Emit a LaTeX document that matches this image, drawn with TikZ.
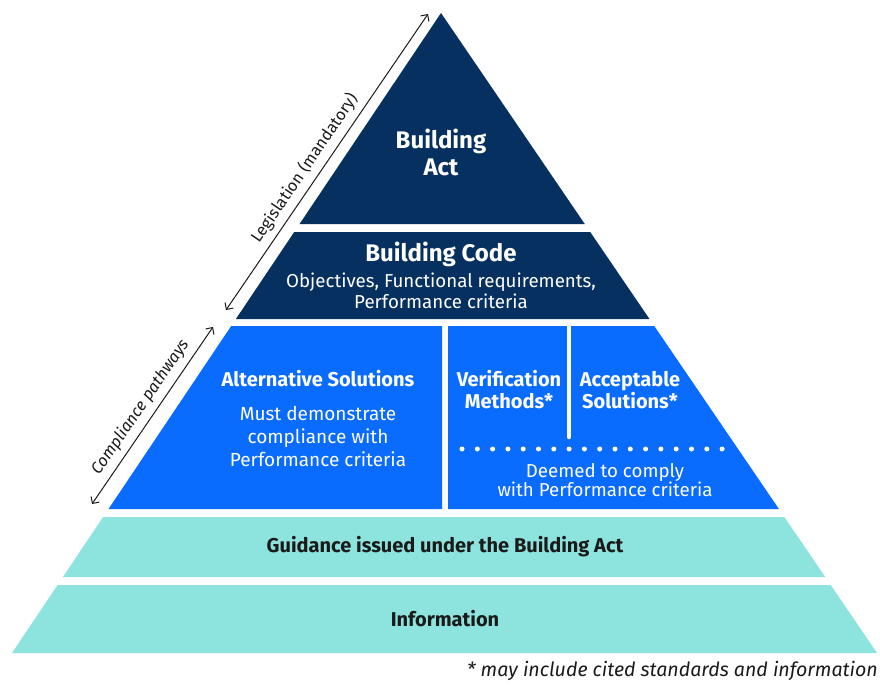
\documentclass[tikz,border=0pt]{standalone}
\usepackage{fontspec}
\setmainfont{Fira Sans}
\usetikzlibrary{arrows.meta}
\definecolor{actNavy}{HTML}{06305F}
\definecolor{pathBlue}{HTML}{0A6BFF}
\definecolor{guideTeal}{HTML}{8DE3DE}
\definecolor{inkGrey}{HTML}{1A1A1A}
\tikzset{
    headtxt/.style={text=white,font=\bfseries\fontsize{24}{27}\selectfont,align=center,inner sep=0pt},
    subtxt/.style={text=white,font=\bfseries\fontsize{20}{22}\selectfont,align=center,inner sep=0pt},
    bodytxt/.style={text=white,font=\fontsize{18.7}{21}\selectfont,align=center,inner sep=0pt},
    bandtxt/.style={text=inkGrey,font=\bfseries\fontsize{20}{22}\selectfont,inner sep=0pt},
    sidetxt/.style={text=inkGrey,font=\fontsize{16.3}{18}\selectfont,sloped,inner sep=6pt},
    sidearrow/.style={draw=inkGrey,line width=1pt,{Straight Barb[length=5pt,width=10pt]}-{Straight Barb[length=5pt,width=10pt]}},
    dotmark/.style={circle,fill=white,inner sep=0pt,minimum size=5pt}
}
% flanks of the pyramid at height #1
\newcommand{\lx}[1]{441-0.6703*(#1-13)}
\newcommand{\rx}[1]{441+0.6813*(#1-13)}
% one full-width tier between two heights
\newcommand{\pyrband}[3]{\fill[#3] ({\lx{#1}},#1) -- ({\rx{#1}},#1) -- ({\rx{#2}},#2) -- ({\lx{#2}},#2) -- cycle;}

\begin{document}
\begin{tikzpicture}[x=1pt,y=-1pt]
  \useasboundingbox (0,0) rectangle (880,698);

  % top: the Act
  \fill[actNavy] (441,13) -- ({\rx{224}},224) -- ({\lx{224}},224) -- cycle;
  % the Code
  \pyrband{232}{319}{actNavy}
  % compliance pathways, split in two
  \fill[pathBlue] ({\lx{326}},326) -- (442,326) -- (442,509) -- ({\lx{509}},509) -- cycle;
  \fill[pathBlue] (448,326) -- ({\rx{326}},326) -- ({\rx{509}},509) -- (448,509) -- cycle;
  \draw[white,line width=4.5pt,line cap=round] (569,326) -- (569,437);
  \foreach \i in {0,...,17}{
    \node[dotmark] (dot\i) at ({462+15.3*\i},449) {};
  }
  % guidance and information
  \pyrband{517}{577}{guideTeal}
  \pyrband{585}{653}{guideTeal}

  % labels
  \node[headtxt] (act) at (441,152) {Building\\Act};
  \node[headtxt] (code) at (441,254) {Building Code};
  \node[bodytxt] (codetxt) at (441,291) {Objectives, Functional requirements,\\Performance criteria};
  \node[subtxt] (alt) at (318,379) {Alternative Solutions};
  \node[bodytxt,font=\fontsize{19}{23}\selectfont] (alttxt) at (318,436) {Must demonstrate\\compliance with\\Performance criteria};
  \node[subtxt] (vm) at (509,390) {Verification\\Methods*};
  \node[subtxt] (as) at (630,390) {Acceptable\\Solutions*};
  \node[bodytxt,font=\fontsize{18.7}{19}\selectfont] (dtc) at (605,480) {Deemed to comply\\with Performance criteria};
  \node[bandtxt] (guide) at (445,547) {Guidance issued under the Building Act};
  \node[bandtxt] (info) at (445,619) {Information};
  \node[text=inkGrey,font=\itshape\fontsize{19.6}{22}\selectfont,anchor=east,inner sep=0pt] (note) at (878,671) {* may include cited standards and information};

  % side arrows
  \coordinate (legbot) at (226,310);
  \coordinate (legtop) at (428,14);
  \coordinate (compbot) at (92,504);
  \coordinate (comptop) at (213,327);
  \draw[sidearrow] (legbot) -- (legtop) node[sidetxt,pos=0.45,above] {Legislation (mandatory)};
  \draw[sidearrow] (compbot) -- (comptop) node[sidetxt,font=\itshape\fontsize{16.3}{18}\selectfont,midway,above] {Compliance pathways};
\end{tikzpicture}
\end{document}
